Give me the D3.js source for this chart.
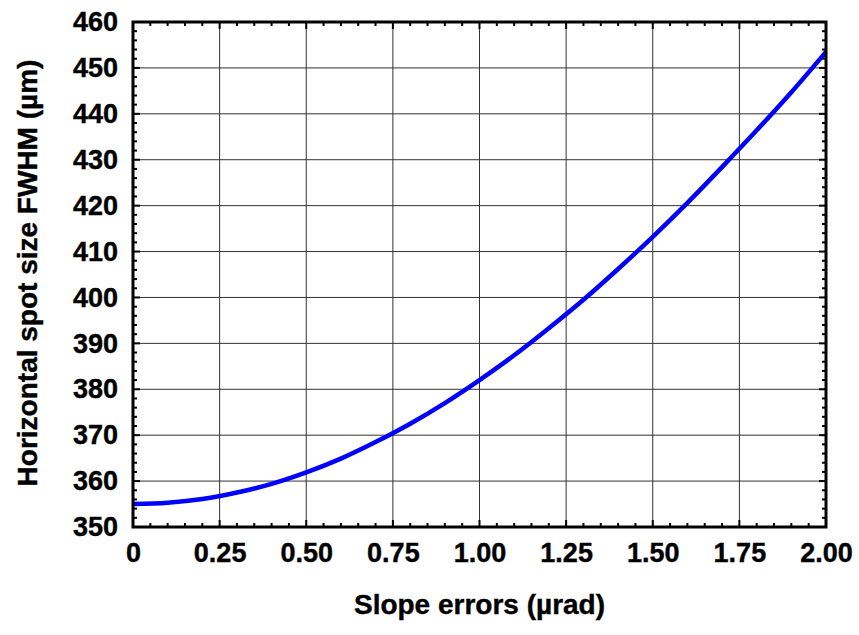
<!DOCTYPE html>
<html><head><meta charset="utf-8">
<script src="https://cdn.jsdelivr.net/npm/d3@7"></script>
<style>body{margin:0;background:#fff}svg{display:block}text{font-family:"Liberation Sans",Arial,sans-serif;font-weight:bold;stroke:#000;stroke-width:0.4px}</style>
</head><body><svg id="c" width="859" height="635"></svg>
<script>
const slope = [0,0.1,0.2,0.3,0.4,0.5,0.6,0.7,0.8,0.9,1.0,1.1,1.2,1.3,1.4,1.5,1.6,1.7,1.8,1.9,2.0];
const spot = [355.0,355.3,356.1,357.5,359.4,361.9,364.9,368.5,372.5,377.0,382.0,387.4,393.3,399.5,406.2,413.2,420.6,428.4,436.4,444.7,453.5];
const xTicks = [0,0.25,0.5,0.75,1.0,1.25,1.5,1.75,2.0];
const xTickLabels = ["0","0.25","0.50","0.75","1.00","1.25","1.50","1.75","2.00"];
const yTicks = [350,360,370,380,390,400,410,420,430,440,450,460];
const xTitle = "Slope errors (µrad)";
const yTitle = "Horizontal spot size FWHM (µm)";

const L=133,R=826,T=22,B=527;
const svg=d3.select("#c");
const x=d3.scaleLinear().domain([0,2]).range([L,R]);
const y=d3.scaleLinear().domain([350,460]).range([B,T]);
const g=svg.append("g");
// grid
g.selectAll(".gx").data(xTicks.slice(1,-1)).join("line").attr("x1",d=>x(d)).attr("x2",d=>x(d)).attr("y1",T).attr("y2",B).attr("stroke","#333").attr("stroke-width",1);
g.selectAll(".gy").data(yTicks.slice(1,-1)).join("line").attr("y1",d=>y(d)).attr("y2",d=>y(d)).attr("x1",L).attr("x2",R).attr("stroke","#333").attr("stroke-width",1);
// minor ticks
const xMinor=d3.range(0,2.0001,0.05), yMinor=d3.range(350,460.001,2);
const tk=svg.append("g").attr("stroke","#000").attr("stroke-width",2);
xMinor.forEach(v=>{const major=Math.abs(v*4-Math.round(v*4))<1e-6;const len=major?7:4;
 tk.append("line").attr("x1",x(v)).attr("x2",x(v)).attr("y1",B).attr("y2",B-len);
 tk.append("line").attr("x1",x(v)).attr("x2",x(v)).attr("y1",T).attr("y2",T+len);});
yMinor.forEach(v=>{const major=Math.abs(v%10)<1e-6;const len=major?7:4;
 tk.append("line").attr("y1",y(v)).attr("y2",y(v)).attr("x1",L).attr("x2",L+len);
 tk.append("line").attr("y1",y(v)).attr("y2",y(v)).attr("x1",R).attr("x2",R-len);});
// curve
svg.append("path").datum(slope.map((s,i)=>[s,spot[i]])).attr("fill","none").attr("stroke","#0000ff").attr("stroke-width",4.5)
 .attr("d",d3.line().x(d=>x(d[0])).y(d=>y(d[1])).curve(d3.curveMonotoneX));
// frame
svg.append("rect").attr("x",L).attr("y",T).attr("width",R-L).attr("height",B-T).attr("fill","none").attr("stroke","#000").attr("stroke-width",3);
// axes labels
const xa=d3.axisBottom(x).tickValues(xTicks).tickFormat((d,i)=>xTickLabels[i]).tickSize(0).tickPadding(16);
const xg=svg.append("g").attr("transform",`translate(0,${B})`).call(xa);
xg.select(".domain").remove();
xg.selectAll("text").attr("font-size",27).attr("font-family","Liberation Sans").attr("font-weight","bold").attr("fill","#000");
const ya=d3.axisLeft(y).tickValues(yTicks).tickSize(0).tickPadding(15);
const yg=svg.append("g").attr("transform",`translate(${L},0)`).call(ya);
yg.select(".domain").remove();
yg.selectAll("text").attr("font-size",27).attr("font-family","Liberation Sans").attr("font-weight","bold").attr("fill","#000");
svg.append("text").attr("x",(L+R)/2).attr("y",614).attr("text-anchor","middle").attr("font-size",28).text(xTitle);
svg.append("text").attr("transform","translate(37,273) rotate(-90)").attr("text-anchor","middle").attr("font-size",28).text(yTitle);
</script></body></html>
